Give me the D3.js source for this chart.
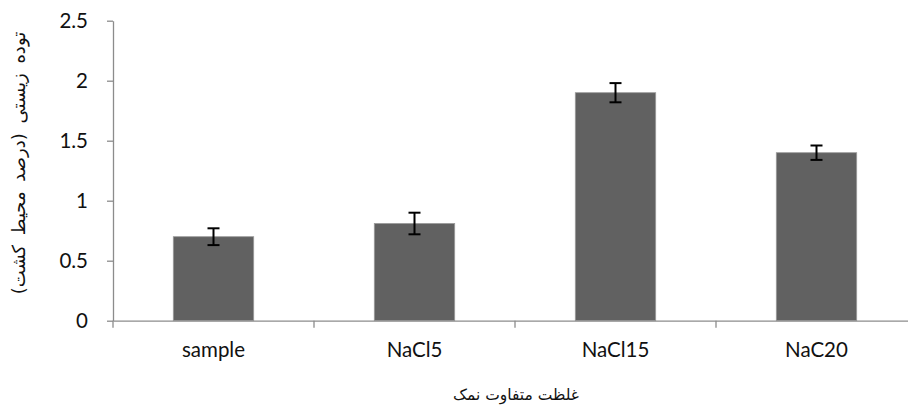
<!DOCTYPE html>
<html><head><meta charset="utf-8">
<script src="https://cdn.jsdelivr.net/npm/d3@7"></script>
<style>body{margin:0;background:#fff}</style>
</head><body>
<svg id="c" width="908" height="412"></svg>
<script>
const categories = ["sample", "NaCl5", "NaCl15", "NaC20"];
const values = [0.70, 0.81, 1.90, 1.40];
const errors = [0.07, 0.09, 0.08, 0.06];
const yTicks = [0, 0.5, 1, 1.5, 2, 2.5];
const xTitle = "غلظت متفاوت نمک";
const yTitle = "توده زیستی (درصد محیط کشت)";

(function () {
const svg = d3.select("#c");
const pLeft = 113, pRight = 917, pTop = 20.7, pBottom = 320.7;
const x = d3.scaleBand().domain(categories).range([pLeft, pRight]).paddingInner(0.6).paddingOuter(0.3);
const xb = d3.scaleBand().domain(categories).range([pLeft, pRight]);
const y = d3.scaleLinear().domain([0, 2.5]).range([pBottom, pTop]);
const axisColor = "#8c8c8c";
const tickFont = "Lato, 'Open Sans', sans-serif";
const tickSize = 20.5;

// y axis
const ya = svg.append("g").attr("transform", `translate(${pLeft},0)`)
  .call(d3.axisLeft(y).tickValues(yTicks).tickFormat(d => String(d)).tickSize(6).tickSizeOuter(0));
ya.select(".domain").attr("stroke", axisColor).attr("stroke-width", 1.3);
ya.selectAll(".tick line").attr("stroke", axisColor).attr("stroke-width", 1.3);
ya.selectAll(".tick text").attr("font-family", tickFont).attr("font-size", tickSize).attr("fill", "#111").attr("x", -25).attr("dy", "0.35em");

// bars
svg.append("g").selectAll("rect").data(categories).join("rect")
  .attr("x", d => x(d)).attr("width", x.bandwidth())
  .attr("y", (d, i) => y(values[i])).attr("height", (d, i) => y(0) - y(values[i]))
  .attr("fill", "#616161").attr("stroke", "#9a9a9a").attr("stroke-width", 0.8);

// x axis
const xa = svg.append("g").attr("transform", `translate(0,${pBottom})`)
  .call(d3.axisBottom(xb).tickSize(0).tickSizeOuter(0));
xa.select(".domain").attr("stroke", axisColor).attr("stroke-width", 1.3);
xa.selectAll(".tick text").attr("font-family", tickFont).attr("font-size", tickSize).attr("fill", "#111").attr("y", 22).attr("dy", "0.71em");
svg.append("g").selectAll("line").data(categories).join("line")
  .attr("x1", d => xb(d)).attr("x2", d => xb(d))
  .attr("y1", pBottom).attr("y2", pBottom + 7)
  .attr("stroke", axisColor).attr("stroke-width", 1.3);

// error bars
const eg = svg.append("g").attr("stroke", "#000").attr("stroke-width", 2);
categories.forEach((c, i) => {
  const cx = x(c) + x.bandwidth() / 2;
  const y1 = y(values[i] + errors[i]), y2 = y(values[i] - errors[i]);
  eg.append("line").attr("x1", cx).attr("x2", cx).attr("y1", y1).attr("y2", y2);
  eg.append("line").attr("x1", cx - 6).attr("x2", cx + 6).attr("y1", y1).attr("y2", y1);
  eg.append("line").attr("x1", cx - 6).attr("x2", cx + 6).attr("y1", y2).attr("y2", y2);
});

// titles
svg.append("text").attr("x", 516).attr("y", 400).attr("text-anchor", "middle")
  .attr("font-family", "'DejaVu Sans', sans-serif").attr("font-size", 15.5).attr("fill", "#111")
  .attr("direction", "rtl").text(xTitle);
svg.append("text").attr("transform", `translate(19,163) rotate(-90)`).attr("text-anchor", "middle")
  .attr("dy", "0.35em")
  .attr("font-family", "'DejaVu Sans', sans-serif").attr("font-size", 18).attr("fill", "#111")
  .attr("direction", "rtl").attr("word-spacing", 4).text(yTitle);
})();
</script>
</body></html>
